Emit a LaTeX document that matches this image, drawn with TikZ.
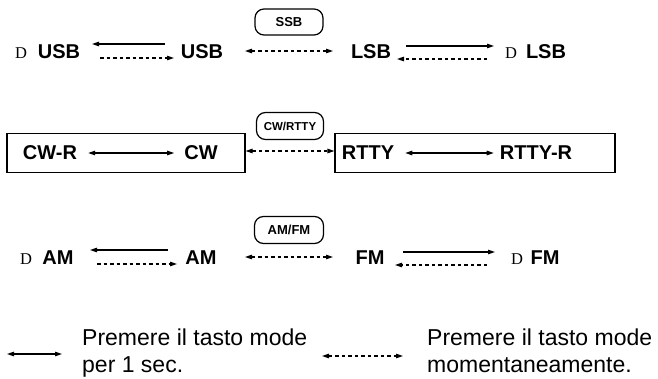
\documentclass[tikz,border=0pt]{standalone}
\usepackage{fontspec}
\setmainfont{Liberation Sans}
\newfontfamily\dfont{Liberation Serif}
\usetikzlibrary{arrows.meta}
\begin{document}
\begin{tikzpicture}[x=1pt,y=-1pt,
  lbl/.style={font=\fontsize{20}{22}\selectfont\bfseries, inner sep=0pt, anchor=center},
  dlbl/.style={font=\dfont\fontsize{16.5}{17}\selectfont, inner sep=0pt, anchor=center},
  btn/.style={draw, line width=1.2pt, rounded corners=9pt, font=\fontsize{13}{14}\selectfont\bfseries, inner sep=0pt},
  frame/.style={draw, line width=1.2pt, inner sep=0pt},
  tip/.style={-{Triangle[length=7pt,width=4.5pt]}},
  solidarr/.style={tip, line width=1.1pt},
  dasharr/.style={tip, line width=1.1pt, dash pattern=on 3.5pt off 3pt},
  bisolid/.style={{Triangle[length=7pt,width=4.5pt]}-{Triangle[length=7pt,width=4.5pt]}, line width=1.1pt},
  bidash/.style={{Triangle[length=7pt,width=4.5pt]}-{Triangle[length=7pt,width=4.5pt]}, line width=1.1pt, dash pattern=on 3.5pt off 3pt},
  leg/.style={font=\fontsize{23}{24}\selectfont, inner sep=0pt, anchor=base west}
]
\useasboundingbox (0,0) rectangle (658,379);

% ---------- Row 1 ----------
\node[dlbl] (d1) at (21,53) {D};
\node[lbl] (usb1) at (59,52) {USB};
\node[lbl] (usb2) at (202,52) {USB};
\node[lbl] (lsb1) at (371,52) {LSB};
\node[dlbl] (d2) at (511,53) {D};
\node[lbl] (lsb2) at (546,52) {LSB};
\node[btn, minimum width=68pt, minimum height=26pt] (ssb) at (289,22) {SSB};

\coordinate (r1a) at (165,44); \coordinate (r1b) at (92,44);
\coordinate (r1c) at (100,58); \coordinate (r1d) at (174,58);
\coordinate (r1e) at (245,51); \coordinate (r1f) at (333,51);
\coordinate (r1g) at (406,46); \coordinate (r1h) at (494,46);
\coordinate (r1i) at (487,59); \coordinate (r1j) at (397,59);
\draw[solidarr] (r1a) -- (r1b);
\draw[dasharr] (r1c) -- (r1d);
\draw[bidash] (r1e) -- (r1f);
\draw[solidarr] (r1g) -- (r1h);
\draw[dasharr] (r1i) -- (r1j);

% ---------- Row 2 ----------
\node[frame, minimum width=238pt, minimum height=39pt] (box1) at (126,153) {};
\node[frame, minimum width=280pt, minimum height=39pt] (box2) at (475,153) {};
\node[lbl] (cwr) at (50,153) {CW-R};
\node[lbl] (cw) at (201,153) {CW};
\node[lbl] (rtty) at (368,153) {RTTY};
\node[lbl] (rttyr) at (536,153) {RTTY-R};
\node[btn, minimum width=67pt, minimum height=27pt, font=\fontsize{11.5}{12}\selectfont\bfseries] (cwrtty) at (290,126) {CW/RTTY};

\draw[bisolid] ([xshift=11pt]cwr.east) -- ([xshift=-10pt]cw.west);
\draw[bidash] ([yshift=2pt]box1.east) -- ([yshift=2pt]box2.west);
\draw[bisolid] ([xshift=11pt]rtty.east) -- ([xshift=-6pt]rttyr.west);

% ---------- Row 3 ----------
\node[dlbl] (d3) at (26,259) {D};
\node[lbl] (am1) at (58,258) {AM};
\node[lbl] (am2) at (201,258) {AM};
\node[lbl] (fm1) at (370,258) {FM};
\node[dlbl] (d4) at (517,259) {D};
\node[lbl] (fm2) at (545,258) {FM};
\node[btn, minimum width=69pt, minimum height=27pt] (amfm) at (289,230) {AM/FM};

\coordinate (r3a) at (168,250); \coordinate (r3b) at (90,250);
\coordinate (r3c) at (97,264); \coordinate (r3d) at (177,264);
\coordinate (r3e) at (245,257); \coordinate (r3f) at (333,257);
\coordinate (r3g) at (403,252); \coordinate (r3h) at (495,252);
\coordinate (r3i) at (487,265); \coordinate (r3j) at (395,265);
\draw[solidarr] (r3a) -- (r3b);
\draw[dasharr] (r3c) -- (r3d);
\draw[bidash] (r3e) -- (r3f);
\draw[solidarr] (r3g) -- (r3h);
\draw[dasharr] (r3i) -- (r3j);

% ---------- Legend ----------
\coordinate (l1a) at (7,354); \coordinate (l1b) at (62,354);
\draw[bisolid] (l1a) -- (l1b);
\node[leg] (t1a) at (82,345) {Premere il tasto mode};
\node[leg] (t1b) at (82,372) {per 1 sec.};
\coordinate (l2a) at (322,356); \coordinate (l2b) at (403,356);
\draw[bidash] (l2a) -- (l2b);
\node[leg] (t2a) at (427,345) {Premere il tasto mode};
\node[leg] (t2b) at (427,372) {momentaneamente.};
\end{tikzpicture}
\end{document}
